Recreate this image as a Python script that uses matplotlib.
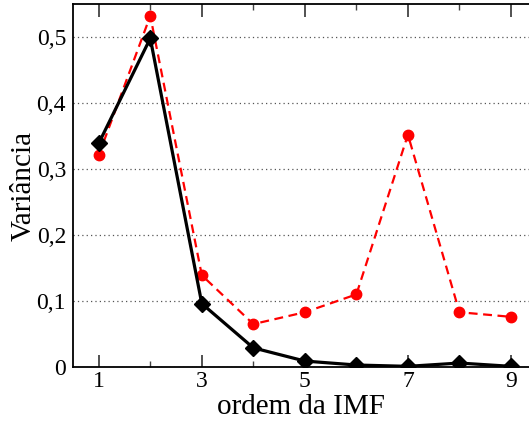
import matplotlib
matplotlib.use("Agg")
import matplotlib.pyplot as plt
from matplotlib.ticker import FuncFormatter, MultipleLocator

imf_order = [1, 2, 3, 4, 5, 6, 7, 8, 9]
var_black = [0.339, 0.498, 0.096, 0.029, 0.009, 0.003, 0.001, 0.006, 0.001]
var_red = [0.321, 0.532, 0.139, 0.065, 0.083, 0.110, 0.352, 0.083, 0.076]
x_ticks = [1, 3, 5, 7, 9]
y_ticks = [0, 0.1, 0.2, 0.3, 0.4, 0.5]

plt.rcParams['font.family'] = ['Liberation Serif', 'DejaVu Serif']

fig = plt.figure(figsize=(5.29, 4.25), dpi=100)
ax = fig.add_axes([73/529, 1 - 367/425, 1 - 73/529, (367 - 4)/425])

ax.plot(imf_order, var_red, color='#ff0000', linestyle=(0, (4, 2.5)), linewidth=1.6,
        marker='o', markersize=7.5, zorder=3)
ax.plot(imf_order, var_black, color='black', linestyle='-', linewidth=2.3,
        marker='D', markersize=8.5, zorder=4)

ax.set_xlim(0.5, 9.35)
ax.set_ylim(0, 0.55)
ax.set_xticks(x_ticks)
ax.xaxis.set_minor_locator(MultipleLocator(1))
ax.set_yticks(y_ticks)

def fmt(v, pos):
    if abs(v) < 1e-9:
        return '0'
    return ('%.1f' % v).replace('.', ',')
ax.yaxis.set_major_formatter(FuncFormatter(fmt))

ax.tick_params(axis='x', which='major', direction='in', length=9, width=1.1,
               top=True, bottom=True, labelsize=17, pad=3, color='#222222')
ax.tick_params(axis='x', which='minor', direction='in', length=4.5, width=1.0,
               top=True, bottom=True, color='#444444')
ax.tick_params(axis='y', which='both', length=0, labelsize=17, pad=5)

ax.grid(axis='y', which='major', linestyle=(0, (1, 2.5)), color='#555555', linewidth=0.9)
ax.spines['right'].set_visible(False)
for s in ['left', 'top', 'bottom']:
    ax.spines[s].set_linewidth(1.3)

ax.set_xlabel('ordem da IMF', fontsize=21, labelpad=1)
ax.set_ylabel('Variância', fontsize=21, labelpad=0)

fig.savefig('out.png', dpi=100)
